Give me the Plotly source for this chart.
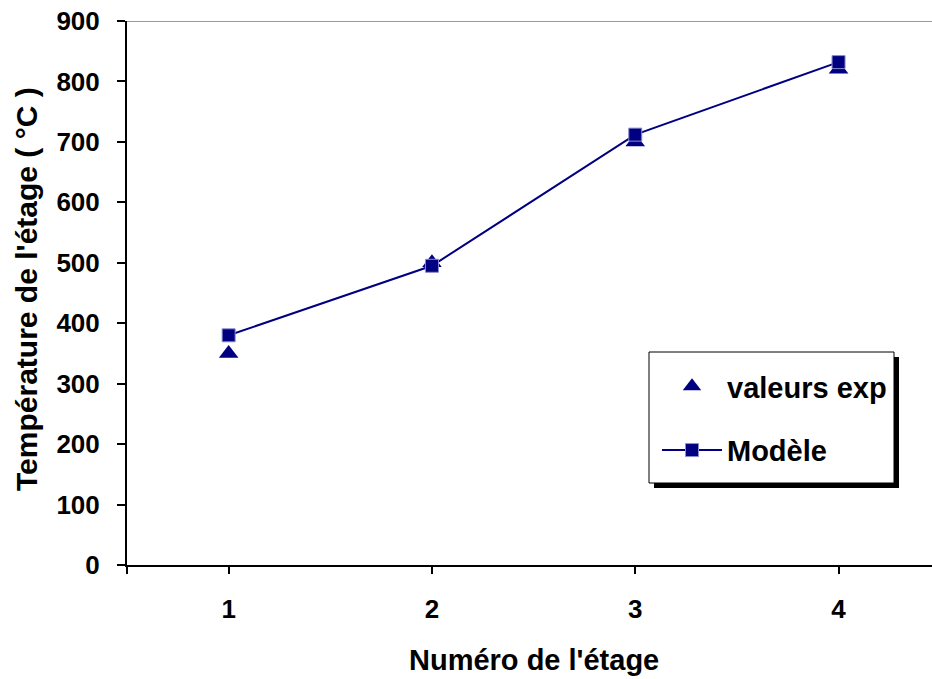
import plotly.graph_objects as go

# Stage temperatures: experimental readings vs. model
stages = [1, 2, 3, 4]
temp_exp = [350, 500, 700, 820]
temp_model = [380, 495, 712, 832]

y_ticks = [0, 100, 200, 300, 400, 500, 600, 700, 800, 900]

NAVY = "#000080"
FONT = "Arial, Liberation Sans, sans-serif"

W, H = 932, 679
ML, MR, MT, MB = 127, 0, 21, 114
PW, PH = W - ML - MR, H - MT - MB


def px_x(px):
    return (px - ML) / PW


def px_y(py):
    return (H - MB - py) / PH


fig = go.Figure()

fig.add_trace(go.Scatter(
    x=stages, y=temp_exp, name="valeurs exp", mode="markers",
    legendgroup="a",
    marker=dict(symbol="triangle-up", size=17, color=NAVY),
))
fig.add_trace(go.Scatter(
    x=stages, y=temp_model, name="Modèle", mode="lines+markers",
    legendgroup="b",
    line=dict(color=NAVY, width=2),
    marker=dict(symbol="square", size=13, color=NAVY,
                line=dict(color="#8c8cd0", width=1)),
))

# Legend frame with a drop shadow
shapes = [
    dict(type="rect", xref="paper", yref="paper",
         x0=px_x(654), x1=px_x(899), y0=px_y(488), y1=px_y(357),
         fillcolor="black", line=dict(width=0), layer="above"),
    dict(type="rect", xref="paper", yref="paper",
         x0=px_x(649), x1=px_x(894), y0=px_y(483), y1=px_y(352),
         fillcolor="white", line=dict(color="black", width=1), layer="above"),
    # gray line along the top of the plot area
    dict(type="line", xref="paper", yref="y",
         x0=0, x1=1, y0=900, y1=900,
         line=dict(color="#999999", width=2), layer="below"),
]

annotations = [
    dict(text="Température de l'étage ( °C )", textangle=-90,
         xref="paper", yref="paper", x=px_x(26), y=px_y(289),
         xanchor="center", yanchor="middle", showarrow=False,
         font=dict(family=FONT, size=30, color="black", weight="bold")),
    dict(text="Numéro de l'étage",
         xref="paper", yref="paper", x=px_x(534), y=px_y(660),
         xanchor="center", yanchor="middle", showarrow=False,
         font=dict(family=FONT, size=29, color="black", weight="bold")),
]

fig.update_layout(
    width=W, height=H,
    margin=dict(l=ML, r=MR, t=MT, b=MB, pad=0),
    paper_bgcolor="white", plot_bgcolor="white",
    font=dict(family=FONT, color="black"),
    shapes=shapes,
    annotations=annotations,
    showlegend=True,
    legend=dict(
        x=px_x(657), y=px_y(361), xanchor="left", yanchor="top",
        bgcolor="rgba(0,0,0,0)", borderwidth=0,
        font=dict(family=FONT, size=29, color="black", weight="bold"),
        tracegroupgap=23, traceorder="grouped", itemwidth=60,
    ),
    xaxis=dict(
        range=[0.5, 0.5 + PW / 203.3],
        tickvals=[0.5] + stages,
        ticktext=[""] + [str(s) for s in stages],
        ticks="outside", ticklen=7, tickwidth=2, tickcolor="black",
        ticklabelstandoff=13,
        tickfont=dict(family=FONT, size=26, color="black", weight="bold"),
        showline=True, linecolor="black", linewidth=2,
        showgrid=False, zeroline=False,
    ),
    yaxis=dict(
        range=[0, 900],
        tickvals=y_ticks,
        ticks="outside", ticklen=8, tickwidth=2, tickcolor="black",
        ticklabelstandoff=12,
        tickfont=dict(family=FONT, size=26, color="black", weight="bold"),
        showline=True, linecolor="black", linewidth=2,
        showgrid=False, zeroline=False,
    ),
)

fig.write_html("out.html")
